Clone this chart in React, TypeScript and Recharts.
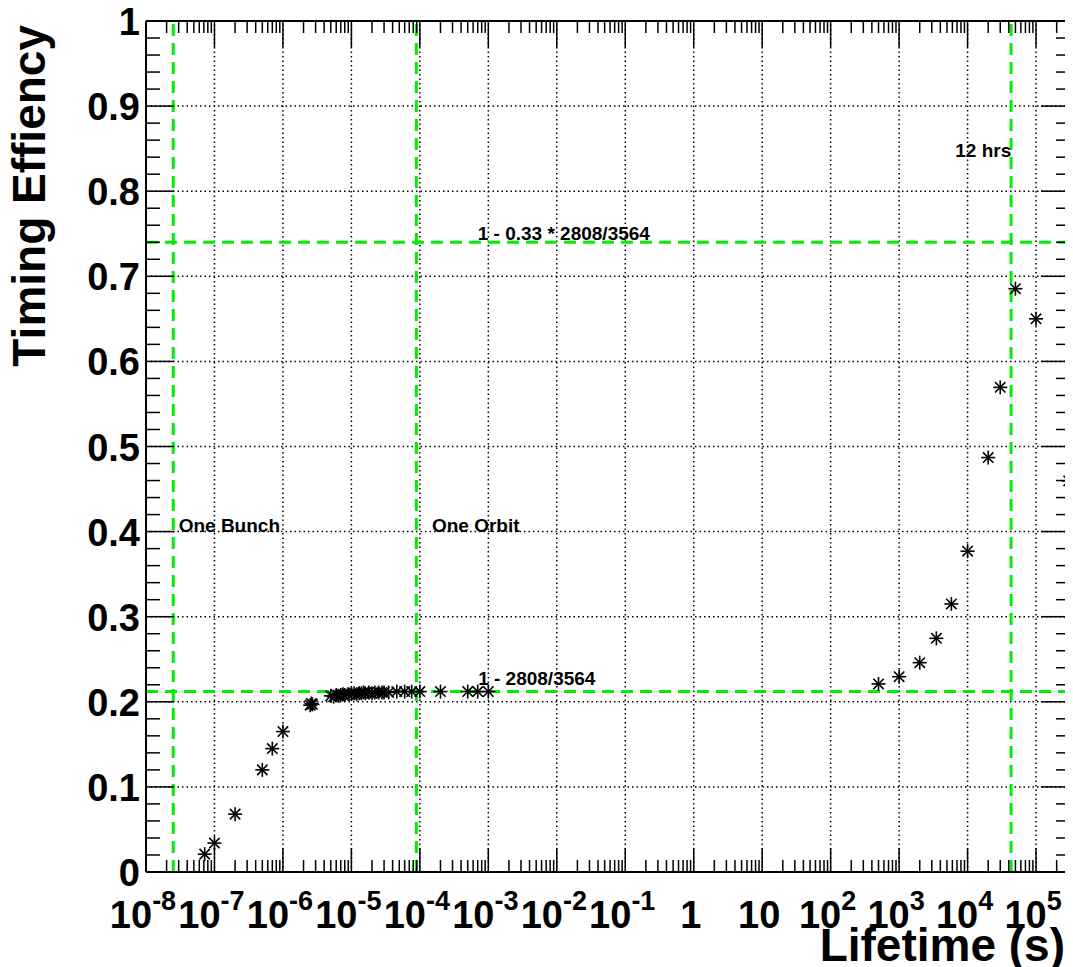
import type { FC } from "react";
import {
  ReferenceDot,
  ReferenceLine,
  Scatter,
  ScatterChart,
  XAxis,
  YAxis,
} from "recharts";

// lifetime (s) and timing efficiency
const lifetimes = [
  7.2e-8, 1e-7, 2e-7, 5e-7, 7e-7, 1e-6, 2.5e-6, 2.6e-6, 2.7e-6, 5e-6, 5.5e-6,
  6e-6, 6.5e-6, 7e-6, 7.5e-6, 8e-6, 9e-6, 1e-5, 1.1e-5, 1.2e-5, 1.3e-5,
  1.4e-5, 1.5e-5, 1.6e-5, 1.8e-5, 2e-5, 2.2e-5, 2.5e-5, 2.8e-5, 3e-5, 3.5e-5,
  4.6e-5, 6e-5, 7.6e-5, 1e-4, 2e-4, 5e-4, 7e-4, 1e-3, 500, 1000, 2000, 3500,
  5800, 1e4, 2e4, 3e4, 5e4, 1e5, 3e5,
];
const efficiencies = [
  0.021, 0.034, 0.068, 0.12, 0.145, 0.165, 0.196, 0.198, 0.197, 0.207, 0.206,
  0.208, 0.207, 0.208, 0.209, 0.208, 0.209, 0.209, 0.21, 0.209, 0.21, 0.21,
  0.211, 0.21, 0.211, 0.21, 0.211, 0.211, 0.211, 0.211, 0.211, 0.212, 0.212,
  0.212, 0.212, 0.212, 0.212, 0.212, 0.212, 0.221, 0.2295, 0.246, 0.2746,
  0.315, 0.377, 0.487, 0.5695, 0.6854, 0.65, 0.4595,
];

const xDecades = [
  1e-8, 1e-7, 1e-6, 1e-5, 1e-4, 1e-3, 1e-2, 1e-1, 1, 10, 100, 1e3, 1e4, 1e5,
];
const xTickLabels: Array<[string, string]> = [
  ["10", "-8"], ["10", "-7"], ["10", "-6"], ["10", "-5"], ["10", "-4"],
  ["10", "-3"], ["10", "-2"], ["10", "-1"], ["1", ""], ["10", ""],
  ["10", "2"], ["10", "3"], ["10", "4"], ["10", "5"],
];
const xMinorFactors = [2, 3, 4, 5, 6, 7, 8, 9];

const yMajor = [0, 0.1, 0.2, 0.3, 0.4, 0.5, 0.6, 0.7, 0.8, 0.9, 1];
const yTickLabels = ["0", "0.1", "0.2", "0.3", "0.4", "0.5", "0.6", "0.7", "0.8", "0.9", "1"];
const yMinorSteps = [0.02, 0.04, 0.06, 0.08];

// markers drawn as green dashed lines
const verticalMarks = [2.5e-8, 8.89e-5, 43200];
const horizontalMarks = [1 - 2808 / 3564, 1 - (0.33 * 2808) / 3564];

const notes = [
  { text: "One Bunch", x: 3e-8, y: 0.4 },
  { text: "One Orbit", x: 1.5e-4, y: 0.4 },
  { text: "1 - 2808/3564", x: 7.1e-4, y: 0.22 },
  { text: "1 - 0.33 * 2808/3564", x: 7e-4, y: 0.743 },
  { text: "12 hrs", x: 6.6e3, y: 0.84 },
];

const X_MAX = 3.24e5;
const FONT = "'Liberation Sans', Arial, Helvetica, sans-serif";
const GREEN = "#00ee00";

const points = lifetimes.map((x, i) => ({ x, y: efficiencies[i] }));

const xAllTicks = [
  ...xDecades,
  ...xDecades.flatMap((d) => xMinorFactors.map((f) => d * f)),
].filter((v) => v <= X_MAX);
const yAllTicks = [
  ...yMajor,
  ...yMajor.slice(0, -1).flatMap((v) => yMinorSteps.map((s) => v + s)),
];

const isDecade = (v: number) => xDecades.includes(v);
const isYMajor = (v: number) => yMajor.some((m) => Math.abs(m - v) < 1e-9);

const BottomTick: FC<any> = ({ x, y, payload }) => {
  const v = payload.value as number;
  const major = isDecade(v);
  const idx = xDecades.indexOf(v);
  return (
    <g>
      <line x1={x} x2={x} y1={y} y2={y - (major ? 24 : 12)} stroke="#000" strokeWidth={1.5} />
      {major && (
        <text
          x={x - 3}
          y={y + 56}
          textAnchor="middle"
          fontFamily={FONT}
          fontWeight="bold"
          fontSize={38}
          fill="#000"
        >
          {xTickLabels[idx][0]}
          {xTickLabels[idx][1] && (
            <tspan dy={-18} fontSize={27}>
              {xTickLabels[idx][1]}
            </tspan>
          )}
        </text>
      )}
    </g>
  );
};

const TopTick: FC<any> = ({ x, y, payload }) => {
  const major = isDecade(payload.value);
  return (
    <line x1={x} x2={x} y1={y} y2={y + (major ? 26 : 12)} stroke="#000" strokeWidth={1.5} />
  );
};

const LeftTick: FC<any> = ({ x, y, payload }) => {
  const v = payload.value as number;
  const major = isYMajor(v);
  const idx = yMajor.findIndex((m) => Math.abs(m - v) < 1e-9);
  return (
    <g>
      <line x1={x} x2={x + (major ? 28 : 14)} y1={y} y2={y} stroke="#000" strokeWidth={1.5} />
      {major && (
        <text
          x={x - 6}
          y={y + 14}
          textAnchor="end"
          fontFamily={FONT}
          fontWeight="bold"
          fontSize={38}
          fill="#000"
        >
          {yTickLabels[idx]}
        </text>
      )}
    </g>
  );
};

const RightTick: FC<any> = ({ x, y, payload }) => {
  const major = isYMajor(payload.value);
  return (
    <line x1={x} x2={x - (major ? 30 : 15)} y1={y} y2={y} stroke="#000" strokeWidth={1.5} />
  );
};

const Star: FC<any> = ({ cx, cy }) => {
  if (cx == null || cy == null) return null;
  const r = 7;
  const d = 5.2;
  return (
    <g stroke="#000" strokeWidth={1.6}>
      <line x1={cx - r} x2={cx + r} y1={cy} y2={cy} />
      <line x1={cx} x2={cx} y1={cy - r} y2={cy + r} />
      <line x1={cx - d} x2={cx + d} y1={cy - d} y2={cy + d} />
      <line x1={cx - d} x2={cx + d} y1={cy + d} y2={cy - d} />
    </g>
  );
};

const NoteLabel: FC<any> = ({ viewBox, text }) => (
  <text
    x={viewBox.x}
    y={viewBox.y}
    fontFamily={FONT}
    fontWeight="bold"
    fontSize={19}
    fill="#000"
  >
    {text}
  </text>
);

const axisLine = { stroke: "#000", strokeWidth: 2 };

const App: FC = () => {
  return (
    <div style={{ position: "relative", width: 1065, height: 959 }}>
      <ScatterChart
        width={1065}
        height={959}
        margin={{ top: 12, right: 1, bottom: 94, left: 137 }}
      >
        <XAxis
          xAxisId="x"
          dataKey="x"
          type="number"
          scale="log"
          domain={[1e-8, X_MAX]}
          allowDataOverflow
          ticks={xAllTicks}
          interval={0}
          height={1}
          tickSize={0}
          tickMargin={0}
          tickLine={false}
          tick={<BottomTick />}
          axisLine={axisLine}
        />
        <XAxis
          xAxisId="xt"
          orientation="top"
          dataKey="x"
          type="number"
          scale="log"
          domain={[1e-8, X_MAX]}
          allowDataOverflow
          ticks={xAllTicks}
          interval={0}
          height={1}
          tickSize={0}
          tickMargin={0}
          tickLine={false}
          tick={<TopTick />}
          axisLine={axisLine}
        />
        <YAxis
          yAxisId="y"
          dataKey="y"
          type="number"
          domain={[0, 1]}
          allowDataOverflow
          ticks={yAllTicks}
          interval={0}
          width={1}
          tickSize={0}
          tickMargin={0}
          tickLine={false}
          tick={<LeftTick />}
          axisLine={axisLine}
        />
        <YAxis
          yAxisId="yr"
          orientation="right"
          dataKey="y"
          type="number"
          domain={[0, 1]}
          allowDataOverflow
          ticks={yAllTicks}
          interval={0}
          width={1}
          tickSize={0}
          tickMargin={0}
          tickLine={false}
          tick={<RightTick />}
          axisLine={axisLine}
        />

        {xDecades.slice(1).map((v) => (
          <ReferenceLine
            key={`gx${v}`}
            xAxisId="x"
            yAxisId="y"
            x={v}
            stroke="#000"
            strokeWidth={1.5}
            strokeDasharray="1.5 3"
          />
        ))}
        {yMajor.slice(1, -1).map((v) => (
          <ReferenceLine
            key={`gy${v}`}
            xAxisId="x"
            yAxisId="y"
            y={v}
            stroke="#000"
            strokeWidth={1.5}
            strokeDasharray="1.5 3"
          />
        ))}

        {verticalMarks.map((v) => (
          <ReferenceLine
            key={`vm${v}`}
            xAxisId="x"
            yAxisId="y"
            x={v}
            stroke={GREEN}
            strokeWidth={3}
            strokeDasharray="12 7"
          />
        ))}
        {horizontalMarks.map((v) => (
          <ReferenceLine
            key={`hm${v}`}
            xAxisId="x"
            yAxisId="y"
            y={v}
            stroke={GREEN}
            strokeWidth={3}
            strokeDasharray="12 7"
          />
        ))}

        {notes.map((n) => (
          <ReferenceDot
            key={n.text}
            xAxisId="x"
            yAxisId="y"
            x={n.x}
            y={n.y}
            r={0}
            fill="none"
            stroke="none"
            label={<NoteLabel text={n.text} />}
          />
        ))}

        <Scatter
          xAxisId="x"
          yAxisId="y"
          data={points}
          shape={<Star />}
          isAnimationActive={false}
        />
        <Scatter
          xAxisId="xt"
          yAxisId="yr"
          data={[]}
          isAnimationActive={false}
        />
      </ScatterChart>

      <svg
        width={1065}
        height={959}
        style={{ position: "absolute", left: 0, top: 0, pointerEvents: "none" }}
      >
        <text
          x={1057}
          y={953}
          textAnchor="end"
          fontFamily={FONT}
          fontWeight="bold"
          fontSize={46}
          fill="#000"
        >
          Lifetime (s)
        </text>
        <text
          transform="translate(37,17) rotate(-90)"
          textAnchor="end"
          fontFamily={FONT}
          fontWeight="bold"
          fontSize={46}
          fill="#000"
        >
          Timing Effiency
        </text>
      </svg>
    </div>
  );
};

export default App;
